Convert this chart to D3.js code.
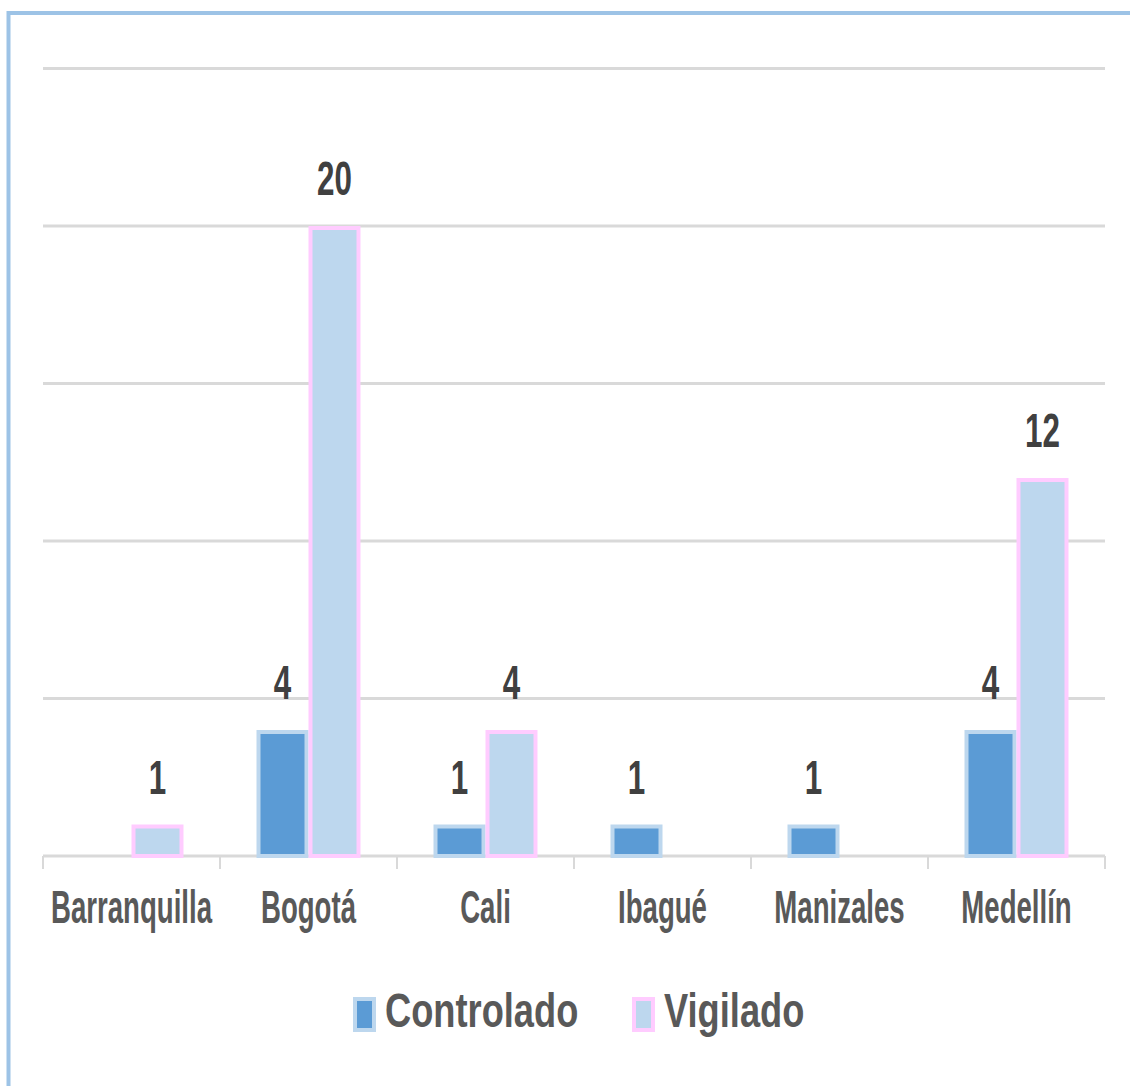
<!DOCTYPE html>
<html>
<head>
<meta charset="utf-8">
<script src="https://cdn.jsdelivr.net/npm/d3@7"></script>
<style>
  body { margin: 0; background: #fff; }
  text { font-family: "Liberation Sans", Arial, sans-serif; font-weight: bold; }
</style>
</head>
<body>
<svg width="1130" height="1086"></svg>
<script>
var categories = ["Barranquilla", "Bogotá", "Cali", "Ibagué", "Manizales", "Medellín"];
var series = ["Controlado", "Vigilado"];
var controlado = [null, 4, 1, 1, 1, 4];
var vigilado = [1, 20, 4, null, null, 12];
var yTicks = [0, 5, 10, 15, 20, 25];

var colors = {Controlado: {fill: "#5b9bd5", stroke: "#bdd7ee"}, Vigilado: {fill: "#bdd7ee", stroke: "#ffccff"}};

var svg = d3.select("svg");

// frame
svg.append("path")
    .attr("d", "M8.5,1086 V13 H1130")
    .attr("fill", "none")
    .attr("stroke", "#9dc3e6")
    .attr("stroke-width", 4);

var x = d3.scaleBand().domain(categories).range([43, 1105]);
var xi = d3.scaleBand().domain(series).range([0, x.bandwidth()]).paddingOuter(0.702);
var y = d3.scaleLinear().domain([0, 25]).range([856, 68.5]);

// gridlines
svg.append("g").selectAll("line")
    .data(yTicks.filter(d => d > 0))
    .join("line")
    .attr("x1", 43).attr("x2", 1105)
    .attr("y1", d => y(d)).attr("y2", d => y(d))
    .attr("stroke", "#d9d9d9")
    .attr("stroke-width", 3);

// x axis
var xAxis = svg.append("g").attr("transform", "translate(0," + y(0) + ")");
xAxis.append("line").attr("x1", 43).attr("x2", 1105).attr("stroke", "#d9d9d9").attr("stroke-width", 3);
xAxis.selectAll("line.tick")
    .data(categories.concat(["end"]))
    .join("line")
    .attr("class", "tick")
    .attr("x1", (d, i) => 43 + i * x.step()).attr("x2", (d, i) => 43 + i * x.step())
    .attr("y1", 0).attr("y2", 13)
    .attr("stroke", "#d9d9d9")
    .attr("stroke-width", 2);
xAxis.selectAll("text")
    .data(categories)
    .join("text")
    .attr("transform", d => "translate(" + (x(d) + x.bandwidth() / 2) + ",67) scale(0.6,1)")
    .attr("text-anchor", "middle")
    .attr("font-size", 46)
    .attr("fill", "#595959")
    .text(d => d);

var rows = [];
categories.forEach((c, i) => {
    if (controlado[i] != null) rows.push({cat: c, s: "Controlado", v: controlado[i]});
    if (vigilado[i] != null) rows.push({cat: c, s: "Vigilado", v: vigilado[i]});
});

svg.append("g").selectAll("rect")
    .data(rows)
    .join("rect")
    .attr("x", d => x(d.cat) + xi(d.s) + 2)
    .attr("width", xi.bandwidth() - 4)
    .attr("y", d => y(d.v) + 2)
    .attr("height", d => y(0) - y(d.v) - 2)
    .attr("fill", d => colors[d.s].fill)
    .attr("stroke", d => colors[d.s].stroke)
    .attr("stroke-width", 4);

svg.append("g").selectAll("text")
    .data(rows)
    .join("text")
    .attr("transform", d => "translate(" + (x(d.cat) + xi(d.s) + xi.bandwidth() / 2) + "," + (y(d.v) - 31) + ") scale(0.64,1)")
    .attr("text-anchor", "middle")
    .attr("font-size", 49)
    .attr("fill", "#404040")
    .text(d => d.v);

// legend
var legendX = [353, 632];
var lg = svg.append("g").selectAll("g")
    .data(series)
    .join("g")
    .attr("transform", (d, i) => "translate(" + legendX[i] + ",997)");
lg.append("rect")
    .attr("x", 2).attr("y", 2)
    .attr("width", 19).attr("height", 31)
    .attr("fill", d => colors[d].fill)
    .attr("stroke", d => colors[d].stroke)
    .attr("stroke-width", 4);
lg.append("text")
    .attr("transform", "translate(32,30) scale(0.74,1)")
    .attr("font-size", 49)
    .attr("fill", "#595959")
    .text(d => d);
</script>
</body>
</html>
